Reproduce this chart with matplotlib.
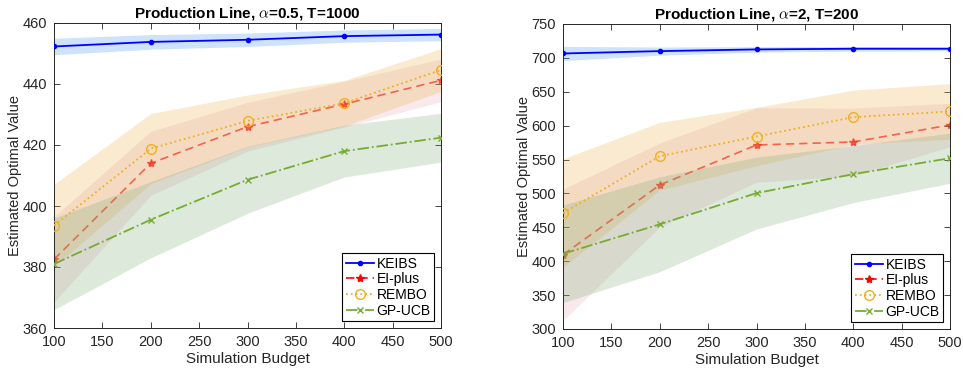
import numpy as np
import matplotlib.pyplot as plt

plt.rcParams['font.family'] = ['Liberation Sans', 'DejaVu Sans']
plt.rcParams['mathtext.fontset'] = 'cm'

budget = [100, 200, 300, 400, 500]
methods = ['KEIBS', 'EI-plus', 'REMBO', 'GP-UCB']

# left panel: alpha=0.5, T=1000
mean_a = {
    'KEIBS': [452.3, 453.8, 454.5, 455.7, 456.2],
    'EI-plus': [382.5, 414.0, 426.0, 433.4, 441.2],
    'REMBO': [393.6, 418.8, 427.9, 433.7, 444.6],
    'GP-UCB': [381.0, 395.5, 408.6, 418.0, 422.4],
}
hw_a = {
    'KEIBS': [2.7, 2.4, 2.2, 2.0, 2.0],
    'EI-plus': [14.0, 10.5, 8.0, 7.5, 7.0],
    'REMBO': [13.5, 11.5, 8.5, 7.5, 7.0],
    'GP-UCB': [15.0, 12.5, 11.0, 8.5, 8.0],
}

# right panel: alpha=2, T=200
mean_b = {
    'KEIBS': [706.5, 710.0, 712.5, 713.5, 713.5],
    'EI-plus': [409.5, 512.5, 571.5, 576.0, 601.0],
    'REMBO': [471.0, 555.0, 584.0, 612.5, 621.0],
    'GP-UCB': [411.0, 454.5, 500.5, 528.5, 552.0],
}
hw_b = {
    'KEIBS': [10.5, 6.0, 4.0, 3.5, 3.0],
    'EI-plus': [97.0, 62.0, 55.0, 50.0, 32.0],
    'REMBO': [80.0, 50.0, 43.0, 40.0, 41.0],
    'GP-UCB': [72.0, 70.0, 53.0, 42.0, 37.0],
}

styles = {
    'KEIBS': dict(color=(0, 0, 1), ls='-', marker='.', ms=6, mfc=(0, 0, 1), lw=1.3),
    'EI-plus': dict(color=(1, 0, 0), ls=(0, (5, 3)), marker='*', ms=6, mfc=(1, 0, 0), lw=1.2),
    'REMBO': dict(color=(0.929, 0.694, 0.125), ls=':', marker='o', ms=7, mfc='none', lw=1.3),
    'GP-UCB': dict(color=(0.466, 0.674, 0.188), ls='-.', marker='x', ms=4, mfc='none', lw=1.3),
}
fills = {
    'KEIBS': ((0.3, 0.6, 0.95), 0.28),
    'EI-plus': ((0.85, 0.4, 0.5), 0.15),
    'REMBO': ((0.93, 0.7, 0.3), 0.26),
    'GP-UCB': ((0.47, 0.67, 0.45), 0.25),
}

fig = plt.figure(figsize=(9.63, 3.75), dpi=100)
ax1 = fig.add_axes([54 / 963, 1 - 328 / 375, 387 / 963, 305 / 375])
ax2 = fig.add_axes([563 / 963, 1 - 329 / 375, 387 / 963, 305 / 375])

panels = [
    (ax1, mean_a, hw_a, (360, 460), np.arange(360, 461, 20), r'Production Line, $\alpha$=0.5, T=1000'),
    (ax2, mean_b, hw_b, (300, 750), np.arange(300, 751, 50), r'Production Line, $\alpha$=2, T=200'),
]

for ax, mean, hw, ylim, yt, title in panels:
    for m in methods:
        mu = np.array(mean[m])
        h = np.array(hw[m])
        c, a = fills[m]
        ax.fill_between(budget, mu - h, mu + h, color=c, alpha=a, lw=0, zorder=2)
    for m in methods:
        st = styles[m]
        # EI-plus curve sits under the shaded bands, as in the original
        z = 1 if m == 'EI-plus' else 3
        line, = ax.plot(budget, mean[m], color=st['color'], ls=st['ls'], lw=st['lw'],
                        marker=st['marker'], ms=st['ms'], mfc=st['mfc'], mec=st['color'],
                        label=m, zorder=z)
        if m == 'EI-plus':
            line.set_alpha(0.75)
    ax.set_xlim(100, 500)
    ax.set_ylim(*ylim)
    ax.set_xticks(range(100, 501, 50))
    ax.set_yticks(yt)
    ax.tick_params(direction='in', top=True, right=True, labelsize=10.5,
                   colors=(0.15, 0.15, 0.15), length=4, width=0.6, pad=5)
    for sp in ax.spines.values():
        sp.set_color((0.15, 0.15, 0.15))
        sp.set_linewidth(0.7)
    ax.set_xlabel('Simulation Budget', fontsize=11, color=(0.15, 0.15, 0.15), labelpad=2)
    ax.set_ylabel('Estimated Optimal Value', fontsize=10.5, color=(0.15, 0.15, 0.15), labelpad=0)
    ax.set_title(title, fontsize=11, fontweight='bold', pad=4)
    leg = ax.legend(loc='lower right', fontsize=10, frameon=True, fancybox=False,
                    edgecolor='black', framealpha=1, handlelength=2.0,
                    handletextpad=0.2, labelspacing=0.12, borderpad=0.25,
                    borderaxespad=0.5)
    leg.get_frame().set_linewidth(0.8)
    leg.legend_handles[1].set_alpha(1)
    leg.set_zorder(5)

fig.savefig('out.png', dpi=100)
